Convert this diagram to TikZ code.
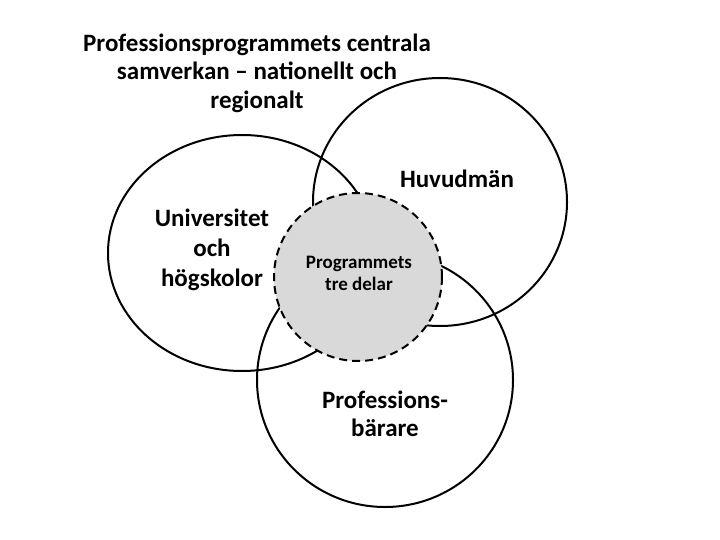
\documentclass[tikz,border=0pt]{standalone}
\usepackage{fontspec}
\setmainfont{Carlito}
\usetikzlibrary{positioning}
\definecolor{ringBlack}{RGB}{0,0,0}
\definecolor{coreGray}{RGB}{217,217,217}

\begin{document}
\begin{tikzpicture}[x=1pt,y=-1pt,
  ring/.style={draw=ringBlack,line width=2pt},
  ringtext/.style={font=\bfseries\fontsize{25}{28.5}\selectfont,align=center,inner sep=0pt}]
\useasboundingbox (0,0) rectangle (720,540);
% the three partners
\draw[ring] (242,253) ellipse [x radius=134pt,y radius=118pt];
\draw[ring] (440,202) ellipse [x radius=127pt,y radius=124pt];
\draw[ring] (385,380) ellipse [x radius=128pt,y radius=127pt];
% the programme in the middle
\draw[ring,fill=coreGray,dash pattern=on 8pt off 5pt] (358,277) circle [radius=84pt];
\node[ringtext] (title) at (257,73) {Professionsprogrammets centrala\\samverkan -- nationellt och\\regionalt};
\node[ringtext,font=\bfseries\fontsize{25}{30}\selectfont] (univ) at (212,250) {Universitet\\och\\högskolor};
\node[ringtext] (huvud) at (457,179) {Huvudmän};
\node[ringtext] (prof) at (385,414) {Professions-\\bärare};
\node[ringtext,font=\bfseries\fontsize{19}{22}\selectfont] (core) at (359,273) {Programmets\\tre delar};
\end{tikzpicture}
\end{document}
